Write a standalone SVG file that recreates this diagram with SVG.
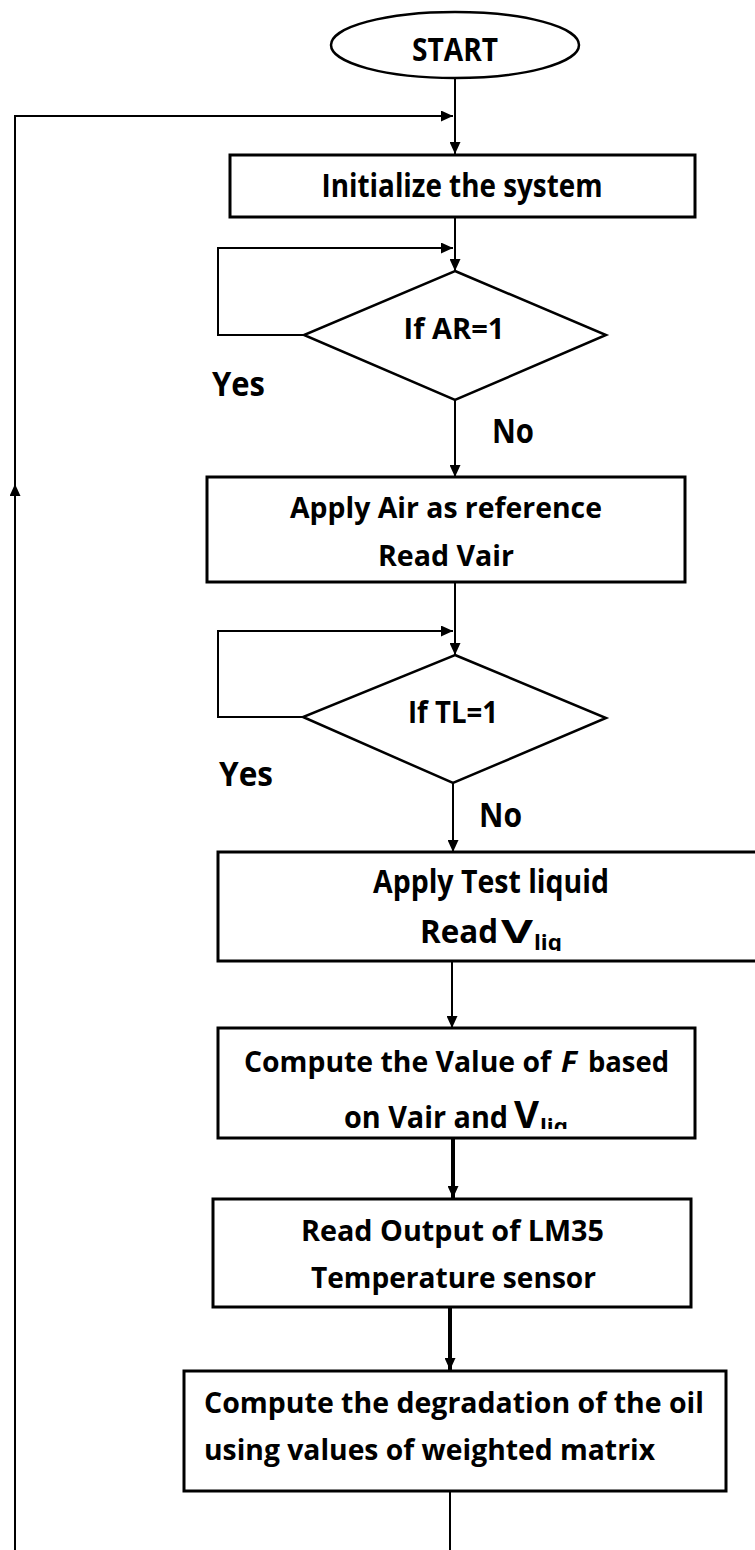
<svg xmlns="http://www.w3.org/2000/svg" width="755" height="1550" viewBox="0 0 755 1550">
<style>
.box{fill:#fff;stroke:#000;stroke-width:3}
.dia{fill:#fff;stroke:#000;stroke-width:2.5}
.con{fill:none;stroke:#000;stroke-width:2}
.thick{stroke-width:4}
text{font-family:"Open Sans","Liberation Sans",sans-serif;font-weight:bold;fill:#000}
.m{text-anchor:middle}
</style>
<defs>
<marker id="ah" markerUnits="userSpaceOnUse" markerWidth="13" markerHeight="11" refX="12" refY="5.5" orient="auto">
<path d="M0,0 L12,5.5 L0,11 z" fill="#000"/>
</marker>
<clipPath id="clipTest"><rect x="218" y="852" width="540" height="99"/></clipPath>
<clipPath id="clipF"><rect x="218" y="1028" width="477" height="101"/></clipPath>
</defs>
<rect width="755" height="1550" fill="#fff"/>
<g id="connectors">
<line class="con" x1="455" y1="78" x2="455" y2="154" marker-end="url(#ah)"/>
<path class="con" d="M15 1550 V484" marker-end="url(#ah)"/>
<path class="con" d="M15 486 V116 H453" marker-end="url(#ah)"/>
<line class="con" x1="455" y1="217" x2="455" y2="271" marker-end="url(#ah)"/>
<path class="con" d="M304 335 H218 V248 H453" marker-end="url(#ah)"/>
<line class="con" x1="455" y1="400" x2="455" y2="477" marker-end="url(#ah)"/>
<line class="con" x1="455" y1="582" x2="455" y2="655" marker-end="url(#ah)"/>
<path class="con" d="M303 717 H218 V631 H453" marker-end="url(#ah)"/>
<line class="con" x1="453" y1="783" x2="453" y2="852" marker-end="url(#ah)"/>
<line class="con" x1="452" y1="961" x2="452" y2="1028" marker-end="url(#ah)"/>
<line class="con thick" x1="453" y1="1138" x2="453" y2="1198" marker-end="url(#ah)"/>
<line class="con thick" x1="450" y1="1307" x2="450" y2="1370" marker-end="url(#ah)"/>
<line class="con" x1="450" y1="1491" x2="450" y2="1550"/>
</g>
<g id="start">
<ellipse cx="455" cy="45" rx="124" ry="33" fill="#fff" stroke="#000" stroke-width="2.5"/>
<text class="m" x="455" y="61" font-size="33" textLength="86" lengthAdjust="spacingAndGlyphs">START</text>
</g>
<g id="init">
<rect class="box" x="230" y="155" width="465" height="62"/>
<text class="m" x="462" y="197" font-size="32" textLength="281" lengthAdjust="spacingAndGlyphs">Initialize the system</text>
</g>
<g id="ifAR">
<polygon class="dia" points="455,271 606,335 455,400 304,335"/>
<text class="m" x="454" y="339" font-size="29" textLength="101" lengthAdjust="spacingAndGlyphs">If AR=1</text>
<text x="212" y="396" font-size="34" textLength="53" lengthAdjust="spacingAndGlyphs">Yes</text>
<text x="492" y="443" font-size="34" textLength="42" lengthAdjust="spacingAndGlyphs">No</text>
</g>
<g id="applyAir">
<rect class="box" x="207" y="477" width="478" height="105"/>
<text class="m" x="446" y="518" font-size="28" textLength="312" lengthAdjust="spacingAndGlyphs">Apply Air as reference</text>
<text class="m" x="446" y="566" font-size="28" textLength="136" lengthAdjust="spacingAndGlyphs">Read Vair</text>
</g>
<g id="ifTL">
<polygon class="dia" points="455,655 606,718 453,783 303,717"/>
<text class="m" x="453" y="723" font-size="30" textLength="90" lengthAdjust="spacingAndGlyphs">If TL=1</text>
<text x="219" y="786" font-size="34" textLength="54" lengthAdjust="spacingAndGlyphs">Yes</text>
<text x="479" y="827" font-size="34" textLength="43" lengthAdjust="spacingAndGlyphs">No</text>
</g>
<g id="applyTest">
<rect class="box" x="218" y="852" width="560" height="109"/>
<text class="m" x="491" y="893" font-size="32" textLength="236" lengthAdjust="spacingAndGlyphs">Apply Test liquid</text>
<g clip-path="url(#clipTest)">
<text x="420" y="943" font-size="32" textLength="78" lengthAdjust="spacingAndGlyphs">Read</text>
<text x="501" y="943" font-size="32" textLength="32" lengthAdjust="spacingAndGlyphs">V</text>
<text x="534" y="950" font-size="21" textLength="28" lengthAdjust="spacingAndGlyphs">liq</text>
</g>
</g>
<g id="computeF">
<rect class="box" x="218" y="1028" width="477" height="110"/>
<text x="244" y="1072" font-size="28" textLength="307" lengthAdjust="spacingAndGlyphs">Compute the Value of</text>
<text x="561" y="1072" font-size="28" font-style="italic" textLength="16" lengthAdjust="spacingAndGlyphs">F</text>
<text x="588" y="1072" font-size="28" textLength="81" lengthAdjust="spacingAndGlyphs">based</text>
<g clip-path="url(#clipF)">
<text x="344" y="1128" font-size="30" textLength="164" lengthAdjust="spacingAndGlyphs">on Vair and</text>
<text x="514" y="1128" font-size="37" textLength="25" lengthAdjust="spacingAndGlyphs">V</text>
<text x="540" y="1134" font-size="21" textLength="28" lengthAdjust="spacingAndGlyphs">liq</text>
</g>
</g>
<g id="readOutput">
<rect class="box" x="213" y="1199" width="478" height="108"/>
<text class="m" x="452.5" y="1241" font-size="29" textLength="303" lengthAdjust="spacingAndGlyphs">Read Output of LM35</text>
<text class="m" x="453.5" y="1288" font-size="29" textLength="285" lengthAdjust="spacingAndGlyphs">Temperature sensor</text>
</g>
<g id="degradation">
<rect class="box" x="184" y="1371" width="542" height="120"/>
<text x="204" y="1413" font-size="29" textLength="500" lengthAdjust="spacingAndGlyphs">Compute the degradation of the oil</text>
<text x="204" y="1460" font-size="29" textLength="451" lengthAdjust="spacingAndGlyphs">using values of weighted matrix</text>
</g>
</svg>
